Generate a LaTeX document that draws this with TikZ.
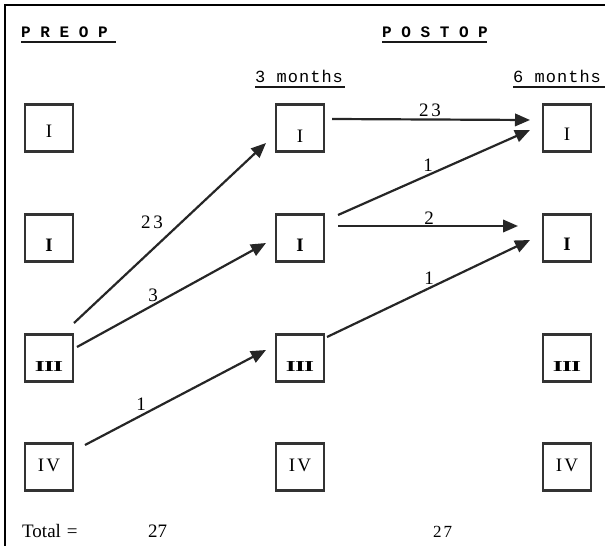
\documentclass[tikz,border=0pt]{standalone}
\usepackage{fontspec}
\setmainfont{Liberation Serif}
\newfontfamily\hdrfont{Liberation Mono}
\newfontfamily\monthfont[LetterSpace=6]{Liberation Mono}
\usetikzlibrary{arrows.meta,calc}
\tikzset{
  stagebox/.style={draw=black!80, line width=2.4pt, minimum width=48pt, minimum height=47pt, inner sep=0pt},
  boxtext/.style={font=\fontsize{19}{19}\selectfont, inner sep=0pt},
  arr/.style={draw=black!85, line width=2.2pt, -{Triangle[length=15pt,width=12.5pt]}},
  numlab/.style={inner sep=0pt, font=\fontsize{19}{19}\selectfont},
  hdr/.style={inner sep=0pt, anchor=base west, font=\fontsize{16}{16}\hdrfont\bfseries},
  mon/.style={inner sep=0pt, anchor=base west, font=\fontsize{17}{17}\monthfont},
  uline/.style={line width=1.6pt, black!90},
  tot/.style={inner sep=0pt, anchor=base west, font=\fontsize{19}{19}\selectfont}
}
\newcommand{\threeR}{\scalebox{1.35}[0.8]{\textbf{I\kern-0.6pt I\kern-0.6pt I}}}
\newcommand{\fourR}{I\kern2pt V}
\begin{document}
\begin{tikzpicture}[x=1pt,y=-1pt]
\useasboundingbox (0,0) rectangle (605,546);
% frame
\draw[line width=2.5pt] (5,546) -- (5,5) -- (605,5);
% headers
\node[hdr] (preop) at (21,37) {P R E O P};
\node[hdr] (postop) at (382,37) {P O S T O P};
\draw[uline] (21,42) -- (116,42);
\draw[uline] (382,42) -- (487,42);
\node[mon] (m3) at (255,82) {3 months};
\node[mon] (m6) at (513,82) {6 months};
\draw[uline] (255,87) -- (345,87);
\draw[uline] (513,87) -- (605,87);
% boxes
\node[stagebox, label={[boxtext, yshift=-3pt]center:I}] (a1) at (49,128) {};
\node[stagebox, label={[boxtext, yshift=-7pt]center:\textbf{I}}] (a2) at (49,238) {};
\node[stagebox, label={[boxtext, yshift=-9pt]center:\threeR}] (a3) at (49,358) {};
\node[stagebox, label={[boxtext, yshift=2pt]center:\fourR}] (a4) at (49,467) {};
\node[stagebox, label={[boxtext, yshift=-8pt]center:I}] (b1) at (300,128) {};
\node[stagebox, label={[boxtext, yshift=-7pt]center:\textbf{I}}] (b2) at (300,238) {};
\node[stagebox, label={[boxtext, yshift=-9pt]center:\threeR}] (b3) at (300,358) {};
\node[stagebox, label={[boxtext, yshift=2pt]center:\fourR}] (b4) at (300,467) {};
\node[stagebox, label={[boxtext, yshift=-6pt]center:I}] (c1) at (567,128) {};
\node[stagebox, label={[boxtext, yshift=-6pt]center:\textbf{I}}] (c2) at (567,238) {};
\node[stagebox, label={[boxtext, yshift=-9pt]center:\threeR}] (c3) at (567,358) {};
\node[stagebox, label={[boxtext, yshift=2pt]center:\fourR}] (c4) at (567,467) {};
% arrows
\draw[arr] ($(a3)+(25,-35)$) -- ($(b1)+(-34,15)$);
\draw[arr] ($(a3)+(28,-11)$) -- ($(b2)+(-34,5)$);
\draw[arr] ($(a4)+(36,-22)$) -- ($(b3)+(-34,-8)$);
\draw[arr] ($(b1)+(32,-9)$) -- ($(c1)+(-37,-8)$);
\draw[arr] ($(b2)+(38,-23)$) -- ($(c1)+(-37,2)$);
\draw[arr] ($(b2)+(38,-12)$) -- ($(c2)+(-49,-12)$);
\draw[arr] ($(b3)+(27,-21)$) -- ($(c2)+(-37,2)$);
% arrow labels
\node[numlab] (l1) at (152,222) {2\kern3pt 3};
\node[numlab] (l2) at (153,295) {3};
\node[numlab] (l3) at (141,404) {1};
\node[numlab] (l4) at (430,110) {2\kern3pt 3};
\node[numlab] (l5) at (428,165) {1};
\node[numlab] (l6) at (429,218) {2};
\node[numlab] (l7) at (429,278) {1};
% totals
\node[tot] (total) at (22,537) {Total\hspace{6pt}=};
\node[tot] (t1) at (148,537) {27};
\node[tot] (t2) at (433,537) {\fontsize{17}{17}\selectfont 2\kern2pt 7};
\end{tikzpicture}
\end{document}
